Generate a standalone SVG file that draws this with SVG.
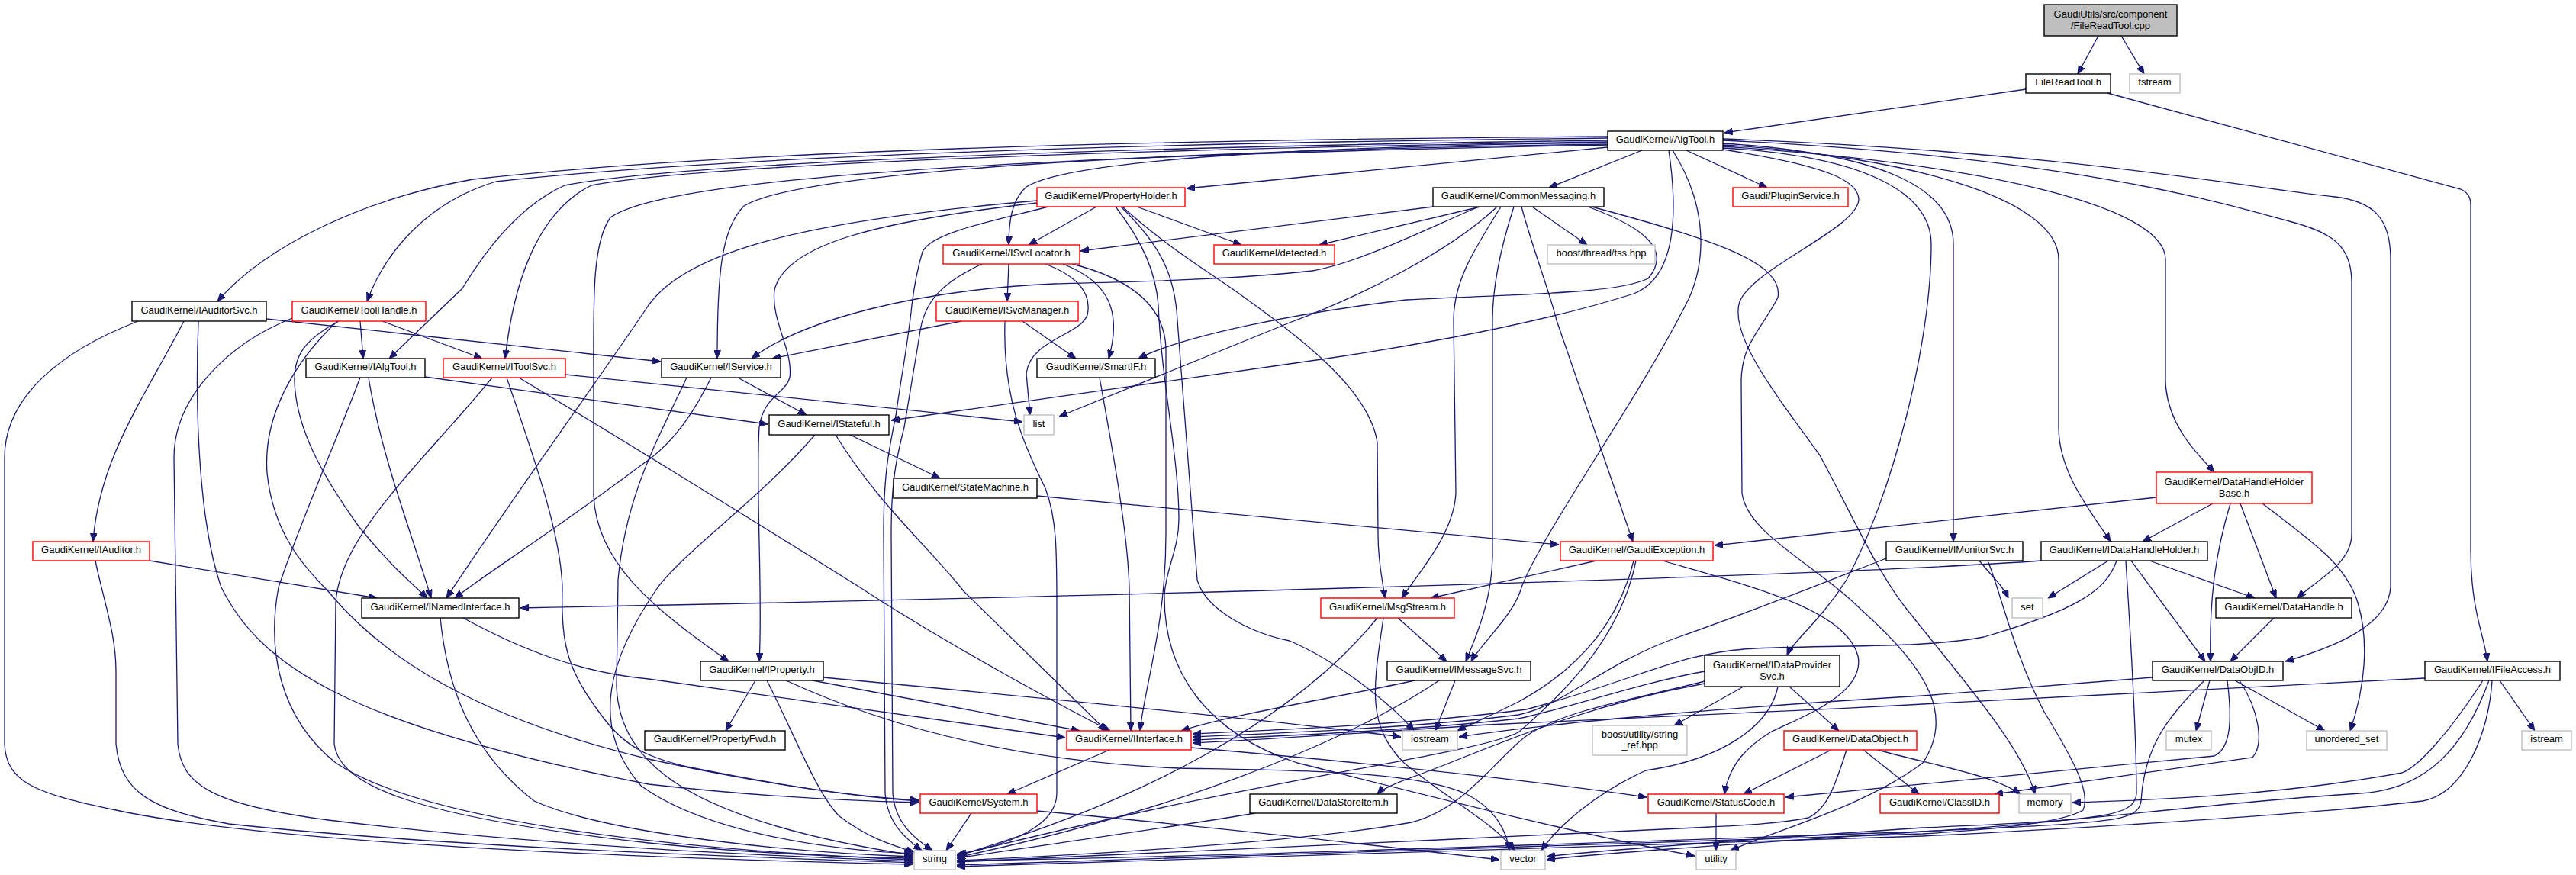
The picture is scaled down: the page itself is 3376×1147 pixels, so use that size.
<svg xmlns="http://www.w3.org/2000/svg" width="3376" height="1147" viewBox="0 0 3376 1147">
<defs>
<marker id="a" viewBox="0 0 11 9" refX="11" refY="4.5" markerWidth="11" markerHeight="9" markerUnits="userSpaceOnUse" orient="auto">
<path d="M0,0 L11,4.5 L0,9 z" fill="#191970" stroke="#191970" stroke-width="1"/>
</marker>
<style>
.e path{fill:none;stroke:#191970;stroke-width:1.3;marker-end:url(#a)}
rect{fill:#fff;stroke-width:1.4}
.k rect{stroke:#000}
.r rect{stroke:#ff0000}
.g rect{stroke:#bfbfbf}
.root rect{fill:#bfbfbf;stroke:#000}
text{font-family:"Liberation Sans",Arial,Helvetica,sans-serif;font-size:13px;text-anchor:middle;fill:#000}
</style>
</defs>
<rect x="0" y="0" width="3376" height="1147" style="fill:#fff;stroke:none"/>
<g id="edges" class="e">
<path d="M2750,47 L2723,97"/>
<path d="M2780,47 L2810,97"/>
<path d="M2655,117 L2260,174"/>
<path d="M2762,122 L3225,248 Q3238,254 3238,268 L3238,720 C3238,800 3255,830 3260,867"/>
<path d="M2107,193 L1555,247"/>
<path d="M2152,197 L2030,246"/>
<path d="M2210,197 L2316,246"/>
<path d="M2107,187 C1700,192 1400,210 1345,245 C1326,262 1322,290 1322,321"/>
<path d="M2107,179 C1500,183 950,198 620,235 C480,260 350,320 285,395"/>
<path d="M2107,181 C1500,187 950,205 650,238 C560,265 505,330 481,395"/>
<path d="M2107,184 C1500,192 900,212 740,243 C680,270 635,330 606,378 L510,470"/>
<path d="M2107,186 C1500,195 920,215 775,243 C700,280 672,380 662,470"/>
<path d="M2107,189 C1500,198 1050,225 975,270 C945,300 940,360 940,470"/>
<path d="M2187,197 C2205,320 2180,370 2141,385 C2000,430 1800,462 1690,477 L1168,551"/>
<path d="M1962,271 C1900,330 1780,390 1690,423 L1388,546"/>
<path d="M2258,188 C2450,200 2560,240 2560,320 L2560,710"/>
<path d="M2258,190 C2500,205 2698,260 2698,340 L2698,560 C2698,620 2740,670 2766,710"/>
<path d="M2258,192 C2600,215 2838,270 2838,340 L2838,500 C2840,560 2885,600 2902,619"/>
<path d="M2258,184 C2700,205 2900,262 3000,290 C3060,305 3082,325 3082,370 L3082,700 C3082,740 3035,760 3011,784"/>
<path d="M2258,182 C2700,198 2960,248 3060,258 C3110,264 3133,285 3133,340 L3133,770 C3130,820 3060,848 2995,867"/>
<path d="M2258,194 C2450,205 2531,255 2531,320 C2531,450 2480,650 2420,760 C2385,815 2350,840 2342,859"/>
<path d="M2192,197 C2232,260 2240,330 2214,390 C2150,520 2020,700 1994,770 C1985,805 1940,845 1928,867"/>
<path d="M2107,190 C1300,205 870,235 800,285 C775,320 778,400 778,500 L778,650 C782,740 860,800 955,867"/>
<path d="M2258,196 C2400,218 2436,238 2436,262 C2433,300 2300,350 2280,395 C2265,440 2330,520 2385,597 C2430,680 2460,750 2500,800 C2580,900 2650,980 2667,1041"/>
<path d="M1878,271 L1416,329"/>
<path d="M1940,271 L1729,321"/>
<path d="M2008,271 L2080,321"/>
<path d="M1938,271 C1870,300 1780,345 1720,355 C1600,368 1450,370 1382,372 C1200,380 1050,420 985,470"/>
<path d="M2081,271 C2160,300 2190,330 2160,365 C2120,385 2000,385 1843,393 C1700,410 1550,440 1492,470"/>
<path d="M1967,271 C1930,330 1905,370 1905,420 L1908,647 C1905,700 1860,750 1837,784"/>
<path d="M1984,271 C1965,330 1956,380 1956,420 L1956,730 C1955,790 1932,840 1921,867"/>
<path d="M1994,271 C2010,330 2030,380 2040,420 L2140,710"/>
<path d="M2086,271 C2250,315 2338,345 2330,390 C2310,430 2282,450 2282,500 L2283,647 C2290,700 2380,740 2440,800 C2530,880 2560,940 2520,1000 C2440,1060 2320,1090 2268,1115"/>
<path d="M1437,271 L1348,321"/>
<path d="M1490,271 L1627,321"/>
<path d="M1359,263 C1050,290 900,330 850,400 C790,490 680,640 585,784"/>
<path d="M1359,266 C1150,290 1030,320 1015,380 C1010,420 1040,460 1035,495 C1030,515 1000,520 995,560 C990,640 1000,780 995,867"/>
<path d="M1471,271 C1530,325 1590,360 1631,390 C1700,440 1795,510 1805,580 L1806,700 C1806,740 1812,760 1815,784"/>
<path d="M1374,271 C1300,290 1220,305 1209,330 C1203,350 1198,375 1195,400 C1190,450 1180,500 1174,545 C1165,590 1158,620 1158,700 L1160,1040 C1163,1080 1188,1100 1208,1115"/>
<path d="M1469,271 C1520,320 1540,360 1543,420 L1569,760 C1580,800 1640,830 1690,840 C1760,870 1830,930 1853,958"/>
<path d="M1462,271 C1500,320 1515,360 1518,400 C1522,500 1545,600 1545,680 C1545,720 1528,745 1526,780 C1525,880 1580,960 1700,1000 C1820,1030 2050,1090 2221,1122"/>
<path d="M1322,346 L1320,395"/>
<path d="M1393,346 C1455,370 1470,410 1453,470"/>
<path d="M1370,346 C1420,365 1430,390 1425,413 C1415,440 1350,445 1345,490 L1350,544"/>
<path d="M1405,346 C1480,365 1528,400 1528,460 L1528,700 C1528,820 1500,900 1494,958"/>
<path d="M1287,346 C1235,370 1210,395 1205,440 C1197,490 1190,530 1185,560 C1175,600 1168,630 1168,700 L1170,1040 C1173,1080 1200,1100 1222,1115"/>
<path d="M1260,421 L1012,470"/>
<path d="M1340,421 L1410,470"/>
<path d="M1317,421 C1314,520 1340,580 1370,640 C1385,680 1385,720 1385,800 L1385,1040 C1385,1090 1300,1112 1254,1120"/>
<path d="M349,418 L866,474"/>
<path d="M241,421 C190,520 130,600 122,710"/>
<path d="M181,421 C80,460 6,520 6,600 L6,975 C8,1025 45,1040 152,1062 C320,1098 700,1122 1196,1133"/>
<path d="M260,421 C255,550 262,690 290,770 C340,870 450,950 850,1028 C1000,1045 1120,1050 1204,1052"/>
<path d="M472,421 L476,470"/>
<path d="M501,421 L632,470"/>
<path d="M383,417 C300,450 228,520 228,600 L233,975 C238,1030 280,1055 430,1075 C700,1108 1000,1122 1196,1129"/>
<path d="M444,421 C400,445 385,465 386,500 C388,560 420,620 470,690 C510,740 540,765 560,784"/>
<path d="M442,421 C380,480 345,550 350,620 C358,700 400,745 430,775 C500,860 620,940 850,995 C1000,1028 1120,1044 1204,1049"/>
<path d="M557,494 L1006,556"/>
<path d="M483,495 C500,600 540,700 565,784"/>
<path d="M472,495 C440,580 395,680 365,770 C350,850 365,940 440,1000 C560,1080 900,1115 1196,1127"/>
<path d="M741,491 L1340,553"/>
<path d="M680,495 C780,555 1000,690 1127,770 C1250,850 1400,930 1455,958"/>
<path d="M645,495 C560,600 445,700 440,790 L438,975 C445,1030 540,1070 850,1105 C1000,1120 1120,1124 1196,1125"/>
<path d="M664,495 C700,600 735,700 737,770 C735,850 745,880 790,940 C820,980 850,993 900,1005 C1000,1025 1120,1045 1204,1050"/>
<path d="M967,495 L1057,544"/>
<path d="M932,495 C900,560 870,590 840,610 C720,700 640,750 596,784"/>
<path d="M900,495 C860,580 820,650 810,760 L808,900 C812,1000 900,1075 1196,1121"/>
<path d="M1114,570 L1232,627"/>
<path d="M1095,570 C1150,660 1220,720 1263,775 L1450,958"/>
<path d="M1068,570 C1000,650 900,720 862,770 C800,860 770,950 840,1030 C930,1095 1100,1115 1196,1119"/>
<path d="M1359,650 L2043,714"/>
<path d="M1441,495 C1460,600 1478,700 1480,770 L1482,958"/>
<path d="M196,735 L494,784"/>
<path d="M125,735 C135,785 152,830 152,880 L152,975 C158,1040 200,1062 300,1080 C600,1112 1000,1124 1196,1131"/>
<path d="M607,810 C680,850 760,882 850,890 L1396,967"/>
<path d="M577,810 C585,890 610,980 700,1050 C800,1095 1050,1118 1196,1123"/>
<path d="M990,892 L951,958"/>
<path d="M1065,892 L1415,958"/>
<path d="M1005,892 C1040,960 1070,1040 1100,1070 C1140,1100 1170,1108 1198,1117"/>
<path d="M1079,888 C1400,918 1700,948 1836,966"/>
<path d="M1030,892 C1200,970 1380,1000 1545,1007 C1700,1010 1850,1010 1920,1040 C1960,1060 1975,1090 1978,1115"/>
<path d="M1454,983 L1320,1041"/>
<path d="M1561,980 C1700,992 1950,1015 2158,1045"/>
<path d="M1273,1066 L1240,1115"/>
<path d="M1359,1063 C1600,1085 1800,1108 1965,1127"/>
<path d="M1645,1066 C1500,1090 1350,1110 1254,1125"/>
<path d="M2249,1066 L2249,1115"/>
<path d="M1832,810 L1896,867"/>
<path d="M1805,810 C1700,940 1500,1050 1254,1122"/>
<path d="M1813,810 C1800,900 1790,950 1840,1000 C1900,1050 1960,1080 1985,1115"/>
<path d="M1907,892 L1881,958"/>
<path d="M1854,892 C1750,915 1620,935 1548,958"/>
<path d="M1886,892 C1800,950 1600,1050 1254,1124"/>
<path d="M2285,900 L2194,951"/>
<path d="M2345,900 L2410,958"/>
<path d="M2234,880 C2150,895 2050,930 1990,942 C1850,958 1650,966 1563,970"/>
<path d="M2234,896 C2100,920 2000,960 1900,1000 C1850,1020 1815,1030 1805,1041"/>
<path d="M2234,893 C2150,915 2050,930 2000,965 C1960,995 1920,1060 1850,1078 C1700,1105 1400,1122 1254,1128"/>
<path d="M2330,900 C2320,950 2260,995 2157,1010 C2090,1040 2040,1085 2020,1115"/>
<path d="M2400,983 L2285,1041"/>
<path d="M2442,983 L2515,1041"/>
<path d="M2420,983 C2405,1030 2395,1060 2370,1072 C2330,1080 2280,1082 2222,1085 C1900,1100 1500,1120 1254,1130"/>
<path d="M2461,983 C2540,1005 2610,1015 2648,1041"/>
<path d="M2896,892 L2878,958"/>
<path d="M2929,892 L3047,958"/>
<path d="M2935,892 C2960,930 2968,975 2952,993 L2614,1041"/>
<path d="M2919,892 C2925,940 2925,980 2902,991 L2340,1045"/>
<path d="M2821,888 L2520,912 C2300,925 2050,945 1912,966"/>
<path d="M2889,892 C2840,940 2810,980 2806,1050 C2802,1078 2770,1078 2520,1090 C2000,1108 1500,1126 1254,1128"/>
<path d="M2900,660 L2808,710"/>
<path d="M2826,652 L2247,715"/>
<path d="M2936,660 L2983,784"/>
<path d="M2923,660 C2905,720 2895,780 2897,867"/>
<path d="M2965,660 C3030,710 3075,740 3090,790 C3105,840 3100,900 3080,958"/>
<path d="M2675,735 C2500,748 1800,775 682,797"/>
<path d="M2763,735 L2684,784"/>
<path d="M2774,735 C2760,775 2720,800 2600,835 C2520,850 2420,845 2300,850 C2200,855 2150,890 2000,930 C1850,950 1650,958 1563,962"/>
<path d="M2786,735 C2790,800 2800,950 2800,1040 C2798,1070 2760,1075 2520,1085 C2300,1100 2100,1114 2027,1123"/>
<path d="M2793,735 L2890,867"/>
<path d="M2817,735 L2955,784"/>
<path d="M2980,810 L2923,867"/>
<path d="M2472,732 C2400,760 2300,800 2200,835 C2100,870 2050,925 1990,937 C1850,955 1650,962 1563,966"/>
<path d="M2594,735 C2610,755 2625,768 2632,784"/>
<path d="M2605,735 C2620,770 2640,860 2679,933 C2720,1000 2740,1040 2730,1062 C2700,1080 2600,1088 2520,1093 C2000,1112 1500,1128 1254,1134"/>
<path d="M3178,889 L2520,923 C2300,935 2050,945 1950,950 C1800,960 1650,970 1563,974"/>
<path d="M3276,892 L3322,958"/>
<path d="M3254,892 C3210,960 3170,1005 3148,1013 C3000,1040 2850,1048 2716,1052"/>
<path d="M3262,892 C3230,980 3180,1035 3093,1040 C2900,1052 2700,1080 2520,1090 C2300,1105 2100,1118 2027,1127"/>
<path d="M3266,892 C3262,960 3230,1040 3175,1050 C3050,1065 2800,1082 2520,1096 C2000,1114 1500,1130 1254,1136"/>
<path d="M2092,735 L1875,784"/>
<path d="M2141,735 C2130,780 2100,860 1990,920 C1950,940 1925,950 1910,958"/>
<path d="M2144,735 C2125,830 2060,900 1990,960 C1930,990 1650,1020 1256,1121"/>
<path d="M2179,735 C2300,770 2420,800 2435,860 C2445,910 2360,940 2320,960 C2280,985 2265,1010 2260,1041"/>
</g>
<g id="n-cpp" class="root"><rect x="2679" y="6" width="174" height="41"/><text x="2766" y="23">GaudiUtils/src/component</text><text x="2766" y="38">/FileReadTool.cpp</text></g>
<g id="n-frth" class="k"><rect x="2655" y="97" width="111" height="25"/><text x="2710.5" y="112">FileReadTool.h</text></g>
<g id="n-fstream" class="g"><rect x="2791" y="97" width="66" height="25"/><text x="2824" y="112">fstream</text></g>
<g id="n-algtool" class="k"><rect x="2107" y="172" width="151" height="25"/><text x="2182.5" y="187">GaudiKernel/AlgTool.h</text></g>
<g id="n-propholder" class="r"><rect x="1359" y="246" width="194" height="25"/><text x="1456" y="261">GaudiKernel/PropertyHolder.h</text></g>
<g id="n-commsg" class="k"><rect x="1878" y="246" width="224" height="25"/><text x="1990" y="261">GaudiKernel/CommonMessaging.h</text></g>
<g id="n-plugin" class="r"><rect x="2271" y="246" width="151" height="25"/><text x="2346.5" y="261">Gaudi/PluginService.h</text></g>
<g id="n-svcloc" class="r"><rect x="1236" y="321" width="179" height="25"/><text x="1325.5" y="336">GaudiKernel/ISvcLocator.h</text></g>
<g id="n-detected" class="r"><rect x="1591" y="321" width="158" height="25"/><text x="1670" y="336">GaudiKernel/detected.h</text></g>
<g id="n-tss" class="g"><rect x="2028" y="321" width="141" height="25"/><text x="2098.5" y="336">boost/thread/tss.hpp</text></g>
<g id="n-audsvc" class="k"><rect x="173" y="395" width="176" height="26"/><text x="261" y="410.5">GaudiKernel/IAuditorSvc.h</text></g>
<g id="n-toolhandle" class="r"><rect x="383" y="395" width="175" height="26"/><text x="470.5" y="410.5">GaudiKernel/ToolHandle.h</text></g>
<g id="n-svcmgr" class="r"><rect x="1227" y="395" width="186" height="26"/><text x="1320" y="410.5">GaudiKernel/ISvcManager.h</text></g>
<g id="n-ialgtool" class="k"><rect x="401" y="470" width="156" height="25"/><text x="479" y="485">GaudiKernel/IAlgTool.h</text></g>
<g id="n-itoolsvc" class="r"><rect x="581" y="470" width="160" height="25"/><text x="661" y="485">GaudiKernel/IToolSvc.h</text></g>
<g id="n-iservice" class="k"><rect x="867" y="470" width="156" height="25"/><text x="945" y="485">GaudiKernel/IService.h</text></g>
<g id="n-smartif" class="k"><rect x="1359" y="470" width="155" height="25"/><text x="1436.5" y="485">GaudiKernel/SmartIF.h</text></g>
<g id="n-istateful" class="k"><rect x="1008" y="544" width="157" height="26"/><text x="1086.5" y="559.5">GaudiKernel/IStateful.h</text></g>
<g id="n-list" class="g"><rect x="1342" y="544" width="39" height="26"/><text x="1361.5" y="559.5">list</text></g>
<g id="n-statemachine" class="k"><rect x="1171" y="627" width="188" height="26"/><text x="1265" y="642.5">GaudiKernel/StateMachine.h</text></g>
<g id="n-dhhbase" class="r"><rect x="2826" y="619" width="204" height="41"/><text x="2928" y="636">GaudiKernel/DataHandleHolder</text><text x="2928" y="651">Base.h</text></g>
<g id="n-iauditor" class="r"><rect x="43" y="710" width="153" height="25"/><text x="119.5" y="725">GaudiKernel/IAuditor.h</text></g>
<g id="n-gexc" class="r"><rect x="2045" y="710" width="200" height="25"/><text x="2145" y="725">GaudiKernel/GaudiException.h</text></g>
<g id="n-imonitor" class="k"><rect x="2472" y="710" width="179" height="25"/><text x="2561.5" y="725">GaudiKernel/IMonitorSvc.h</text></g>
<g id="n-idhh" class="k"><rect x="2675" y="710" width="218" height="25"/><text x="2784" y="725">GaudiKernel/IDataHandleHolder.h</text></g>
<g id="n-inamed" class="k"><rect x="474" y="784" width="206" height="26"/><text x="577" y="799.5">GaudiKernel/INamedInterface.h</text></g>
<g id="n-msgstream" class="r"><rect x="1731" y="784" width="175" height="26"/><text x="1818.5" y="799.5">GaudiKernel/MsgStream.h</text></g>
<g id="n-set" class="g"><rect x="2637" y="784" width="40" height="26"/><text x="2657" y="799.5">set</text></g>
<g id="n-datahandle" class="k"><rect x="2904" y="784" width="178" height="26"/><text x="2993" y="799.5">GaudiKernel/DataHandle.h</text></g>
<g id="n-iproperty" class="k"><rect x="918" y="867" width="161" height="25"/><text x="998.5" y="882">GaudiKernel/IProperty.h</text></g>
<g id="n-imsgsvc" class="k"><rect x="1818" y="867" width="188" height="25"/><text x="1912" y="882">GaudiKernel/IMessageSvc.h</text></g>
<g id="n-idps" class="k"><rect x="2234" y="859" width="177" height="41"/><text x="2322.5" y="876">GaudiKernel/IDataProvider</text><text x="2322.5" y="891">Svc.h</text></g>
<g id="n-dataobjid" class="k"><rect x="2821" y="867" width="171" height="25"/><text x="2906.5" y="882">GaudiKernel/DataObjID.h</text></g>
<g id="n-ifileaccess" class="k"><rect x="3178" y="867" width="177" height="25"/><text x="3266.5" y="882">GaudiKernel/IFileAccess.h</text></g>
<g id="n-propfwd" class="k"><rect x="845" y="958" width="184" height="25"/><text x="937" y="973">GaudiKernel/PropertyFwd.h</text></g>
<g id="n-iinterface" class="r"><rect x="1398" y="958" width="163" height="25"/><text x="1479.5" y="973">GaudiKernel/IInterface.h</text></g>
<g id="n-iostream" class="g"><rect x="1838" y="958" width="72" height="25"/><text x="1874" y="973">iostream</text></g>
<g id="n-stringref" class="g"><rect x="2087" y="951" width="124" height="39"/><text x="2149" y="966.5">boost/utility/string</text><text x="2149" y="981">_ref.hpp</text></g>
<g id="n-dataobject" class="r"><rect x="2338" y="958" width="174" height="25"/><text x="2425" y="973">GaudiKernel/DataObject.h</text></g>
<g id="n-mutex" class="g"><rect x="2839" y="958" width="59" height="25"/><text x="2868.5" y="973">mutex</text></g>
<g id="n-uset" class="g"><rect x="3023" y="958" width="105" height="25"/><text x="3075.5" y="973">unordered_set</text></g>
<g id="n-istream" class="g"><rect x="3305" y="958" width="65" height="25"/><text x="3337.5" y="973">istream</text></g>
<g id="n-system" class="r"><rect x="1206" y="1041" width="153" height="25"/><text x="1282.5" y="1056">GaudiKernel/System.h</text></g>
<g id="n-datastoreitem" class="k"><rect x="1638" y="1041" width="193" height="25"/><text x="1734.5" y="1056">GaudiKernel/DataStoreItem.h</text></g>
<g id="n-statuscode" class="r"><rect x="2160" y="1041" width="178" height="25"/><text x="2249" y="1056">GaudiKernel/StatusCode.h</text></g>
<g id="n-classid" class="r"><rect x="2464" y="1041" width="156" height="25"/><text x="2542" y="1056">GaudiKernel/ClassID.h</text></g>
<g id="n-memory" class="g"><rect x="2646" y="1041" width="68" height="25"/><text x="2680" y="1056">memory</text></g>
<g id="n-string" class="g"><rect x="1198" y="1115" width="54" height="25"/><text x="1225" y="1130">string</text></g>
<g id="n-vector" class="g"><rect x="1967" y="1115" width="58" height="25"/><text x="1996" y="1130">vector</text></g>
<g id="n-utility" class="g"><rect x="2223" y="1115" width="52" height="25"/><text x="2249" y="1130">utility</text></g>
</svg>
